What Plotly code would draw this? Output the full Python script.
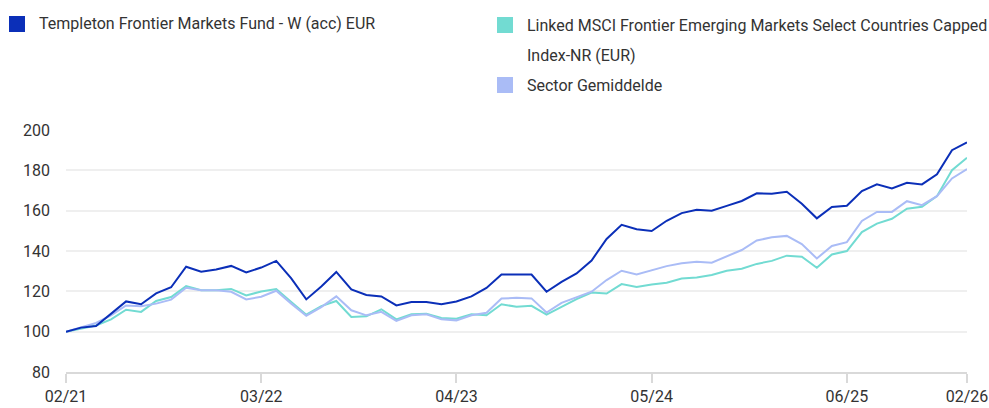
import pandas as pd
import plotly.graph_objects as go

months = list(pd.date_range("2021-02-01", periods=61, freq="MS").strftime("%m/%y"))
tick_labels = ["02/21", "03/22", "04/23", "05/24", "06/25", "02/26"]

fund_name = "Templeton Frontier Markets Fund - W (acc) EUR"
index_name_lines = ["Linked MSCI Frontier Emerging Markets Select Countries Capped",
                    "Index-NR (EUR)"]
sector_name = "Sector Gemiddelde"

fund = [100, 102, 102.8, 109, 115, 113.6, 119, 122, 132.2, 129.7,
        130.8, 132.6, 129.4, 131.8, 135.1, 126.4, 116, 122.4, 129.6, 121,
        118.2, 117.5, 113, 114.7, 114.7, 113.6, 115, 117.5, 121.7, 128.4,
        128.5, 128.3, 119.8, 124.7, 128.9, 135.3, 146, 153, 150.8, 149.9,
        155, 158.8, 160.5, 160, 162.4, 164.8, 168.6, 168.4, 169.4, 163.4,
        156.2, 161.8, 162.4, 169.7, 173.1, 171, 173.8, 173, 178, 190, 193.8]
index = [100, 101.5, 103.1, 106.1, 110.9, 109.8, 115.2, 117.2, 122.6, 120.5,
         120.5, 121.2, 118, 119.9, 121.1, 114.7, 108.4, 112.7, 115.2, 107.3,
         107.6, 111.1, 106.1, 108.6, 108.9, 106.8, 106.4, 108.6, 108.1, 113.6,
         112.3, 112.8, 108.5, 112.3, 116.1, 119.4, 118.9, 123.6, 122.2, 123.4,
         124.3, 126.4, 126.9, 128.1, 130.2, 131.2, 133.6, 135.1, 137.7, 137.2,
         131.7, 138.3, 140, 149.4, 153.6, 156, 161, 161.9, 167.2, 180.1, 186.2]
sector = [100, 102.3, 104.3, 108.1, 113, 112.6, 113.9, 115.9, 121.8, 120.5,
          120.5, 119.8, 116, 117.3, 120.3, 113.9, 107.9, 112.2, 117.5, 110.6,
          108.1, 109.8, 105.3, 108.1, 108.6, 106.1, 105.6, 108.1, 109.4, 116.4,
          116.8, 116.5, 109.5, 114.3, 117, 119.8, 125.6, 130.2, 128.4, 130.5,
          132.5, 133.9, 134.7, 134.2, 137.5, 140.5, 145.2, 146.8, 147.5, 143.4,
          136.3, 142.5, 144.4, 154.9, 159.4, 159.4, 164.7, 162.7, 167.2, 176, 180.6]

C_FUND = "#0b2fb8"
C_INDEX = "#72dbd2"
C_SECTOR = "#aabcf6"
TEXT = "#333333"
FONT = "Roboto, sans-serif"
FS = 16

W, H = 989, 408
ML, MR, MT, MB = 66, 22, 130, 36
PW, PH = W - ML - MR, H - MT - MB


def xp(px):
    return (px - ML) / PW


def yp(py):
    return (H - MB - py) / PH


fig = go.Figure()
fig.add_trace(go.Scatter(x=months, y=index, mode="lines", name="index",
                         line=dict(color=C_INDEX, width=2), showlegend=False))
fig.add_trace(go.Scatter(x=months, y=sector, mode="lines", name="sector",
                         line=dict(color=C_SECTOR, width=2), showlegend=False))
fig.add_trace(go.Scatter(x=months, y=fund, mode="lines", name="fund",
                         line=dict(color=C_FUND, width=2), showlegend=False))

# legend squares: (left px, top px, colour)
squares = [(9, 16, C_FUND), (497, 17, C_INDEX), (497, 77, C_SECTOR)]
# legend texts: (left px, centre px, text)
texts = [(38, 24, fund_name),
         (526, 25, index_name_lines[0]),
         (526, 56, index_name_lines[1]),
         (526, 85, sector_name)]
shapes = []
annotations = []
for px, py, col in squares:
    shapes.append(dict(type="rect", xref="paper", yref="paper",
                       x0=xp(px), x1=xp(px + 16), y0=yp(py), y1=yp(py + 16),
                       fillcolor=col, line=dict(width=0)))
for px, py, txt in texts:
    annotations.append(dict(text=txt, xref="paper", yref="paper",
                            x=xp(px), y=yp(py), xanchor="left", yanchor="middle",
                            showarrow=False, align="left", borderpad=0,
                            font=dict(family=FONT, size=FS, color=TEXT)))

fig.update_layout(
    width=W, height=H,
    margin=dict(l=ML, r=MR, t=MT, b=MB, pad=0, autoexpand=False),
    plot_bgcolor="white", paper_bgcolor="white",
    shapes=shapes, annotations=annotations,
    font=dict(family=FONT, size=FS, color=TEXT),
    xaxis=dict(type="category", range=[0, 60], tickmode="array",
               tickvals=tick_labels, ticktext=tick_labels,
               showgrid=False, zeroline=False, automargin=False,
               showline=True, linecolor="#d9d9d9", linewidth=2,
               ticks="outside", ticklen=9, tickwidth=2, tickcolor="#d9d9d9",
               ticklabelstandoff=0,
               tickfont=dict(family=FONT, size=FS, color=TEXT)),
    yaxis=dict(range=[80, 200], tickvals=[80, 100, 120, 140, 160, 180, 200],
               showgrid=True, gridcolor="#efefef", gridwidth=2,
               zeroline=False, showline=False, ticks="", automargin=False,
               ticklabelstandoff=15,
               tickfont=dict(family=FONT, size=FS, color=TEXT)),
)

fig.write_html("out.html", config={"displayModeBar": False},
               post_script="document.body.style.margin='0';document.body.style.padding='0';")
